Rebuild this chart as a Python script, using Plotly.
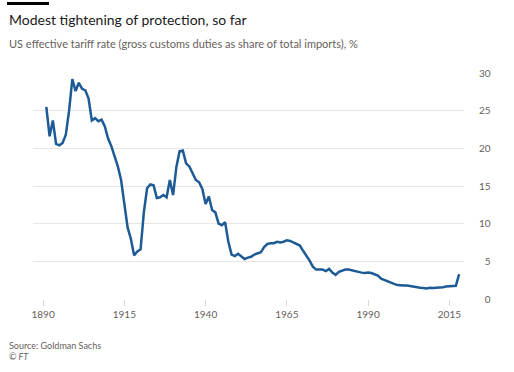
import plotly.graph_objects as go

years = list(range(1891, 2019))
tariff_rate = [
    25.5, 21.6, 23.7, 20.6, 20.4, 20.7, 21.8, 25.0, 29.2, 27.6,   # 1891-1900
    28.7, 27.9, 27.7, 26.6, 23.7, 24.0, 23.6, 23.8, 22.9, 21.3,   # 1901-1910
    20.3, 18.9, 17.6, 15.8, 12.5, 9.5, 8.0, 5.8, 6.3, 6.6,        # 1911-1920
    11.5, 14.7, 15.2, 15.1, 13.4, 13.5, 13.8, 13.5, 15.8, 13.8,   # 1921-1930
    17.5, 19.6, 19.7, 18.0, 17.6, 16.8, 15.8, 15.5, 14.6, 12.6,   # 1931-1940
    13.6, 11.8, 11.5, 10.0, 9.8, 10.2, 7.6, 5.9, 5.7, 6.0,        # 1941-1950
    5.6, 5.3, 5.5, 5.6, 5.9, 6.0, 6.2, 6.9, 7.3, 7.4,             # 1951-1960
    7.4, 7.6, 7.5, 7.6, 7.8, 7.7, 7.5, 7.2, 7.1, 6.4,             # 1961-1970
    5.8, 5.1, 4.3, 3.9, 3.9, 3.9, 3.7, 4.0, 3.5, 3.2,             # 1971-1980
    3.6, 3.8, 3.9, 3.9, 3.8, 3.6, 3.6, 3.5, 3.45, 3.5,            # 1981-1990
    3.45, 3.3, 3.1, 2.7, 2.5, 2.35, 2.2, 2.0, 1.85, 1.8,          # 1991-2000
    1.8, 1.8, 1.7, 1.65, 1.55, 1.5, 1.45, 1.4, 1.5, 1.45,         # 2001-2010
    1.5, 1.5, 1.55, 1.65, 1.7, 1.7, 1.75, 3.3,                    # 2011-2018
]
x_ticks = [1890, 1915, 1940, 1965, 1990, 2015]
y_ticks = [0, 5, 10, 15, 20, 25, 30]
y_tick_text = ["\u2007" + str(v) if v < 10 else str(v) for v in y_ticks]

title = "Modest tightening of protection, so far"
subtitle = "US effective tariff rate (gross customs duties as share of total imports), %"
source = "Source: Goldman Sachs"
copyright_txt = "© FT"

FONT = "Lato"
GREY = "#66605c"
GRID = "#e9e6e2"

W, H = 514, 372
ml, mt = 33, 73
mr = W - 464
mb = H - 299
PW, PH = W - ml - mr, H - mt - mb


def px(xp):
    return (xp - ml) / PW


def py(yp):
    return 1 - (yp - mt) / PH


fig = go.Figure()
fig.add_trace(go.Scatter(
    x=years, y=tariff_rate, mode="lines",
    line=dict(color="#1d5a96", width=2.5),
    hoverinfo="x+y", showlegend=False,
))

fig.update_layout(
    width=W, height=H,
    margin=dict(l=ml, r=mr, t=mt, b=mb, autoexpand=False),
    paper_bgcolor="white", plot_bgcolor="white",
    font=dict(family=FONT, color=GREY, size=10),
    xaxis=dict(
        range=[1886.9, 2019.5], tickvals=x_ticks,
        showgrid=False, zeroline=False, showline=False,
        ticks="outside", ticklen=6, tickcolor="#dcd8d3", tickwidth=1,
        tickfont=dict(size=10, color=GREY),
    ),
    yaxis=dict(
        range=[0, 30], side="right", tickvals=y_ticks, ticktext=y_tick_text,
        showgrid=True, gridcolor=GRID, gridwidth=1,
        zeroline=False, showline=False, ticks="", ticklabelstandoff=14,
        tickfont=dict(size=10, color=GREY),
    ),
    shapes=[dict(
        type="line", xref="paper", yref="paper",
        x0=px(7), x1=px(49), y0=py(3.5), y1=py(3.5),
        line=dict(color="black", width=3),
    )],
    annotations=[
        dict(text=title, xref="paper", yref="paper",
             x=px(7), y=py(20), xanchor="left", yanchor="middle", showarrow=False,
             font=dict(family=FONT, size=14, color="#1a1a1a")),
        dict(text=subtitle, xref="paper", yref="paper",
             x=px(7), y=py(43.5), xanchor="left", yanchor="middle", showarrow=False,
             font=dict(family=FONT, size=11, color=GREY)),
        dict(text=source, xref="paper", yref="paper",
             x=px(7), y=py(345), xanchor="left", yanchor="middle", showarrow=False,
             font=dict(family=FONT, size=9, color=GREY)),
        dict(text="<i>" + copyright_txt + "</i>", xref="paper", yref="paper",
             x=px(7), y=py(356), xanchor="left", yanchor="middle", showarrow=False,
             font=dict(family=FONT, size=9, color=GREY)),
    ],
)

fig.write_html(
    "out.html",
    config={"displayModeBar": False},
    post_script="document.body.style.margin='0px';document.body.style.overflow='hidden';",
)
